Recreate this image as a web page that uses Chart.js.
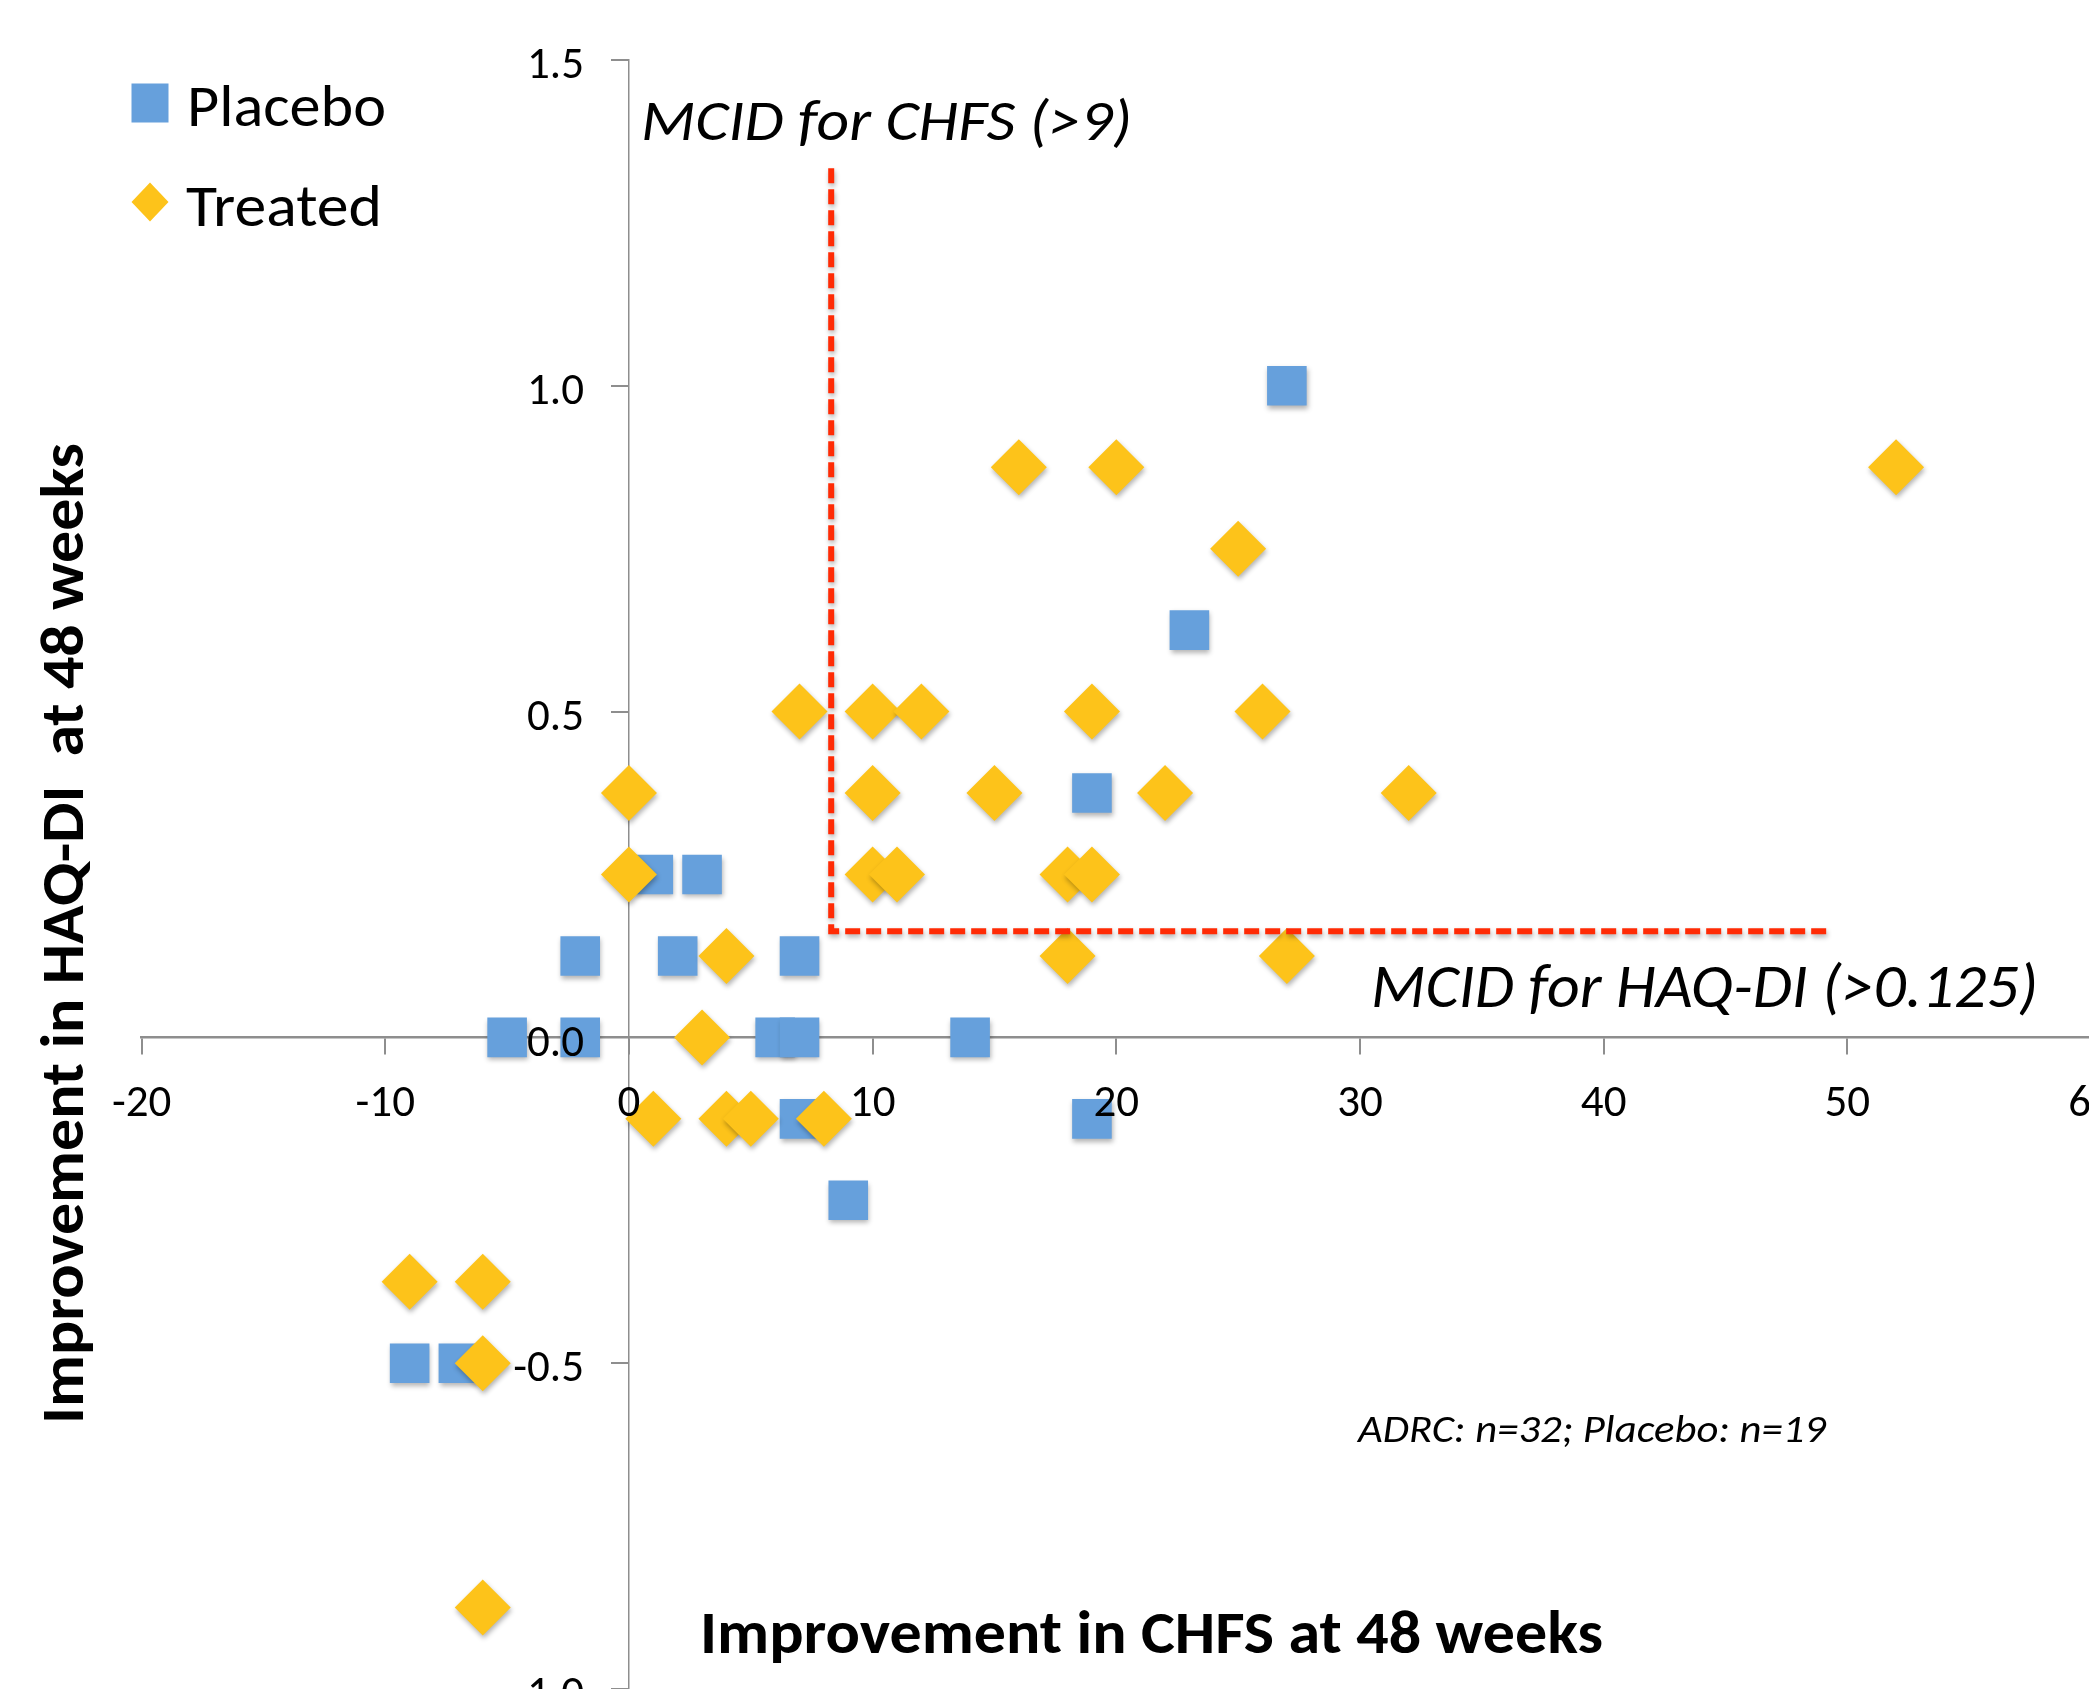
<!DOCTYPE html>
<html>
<head>
<meta charset="utf-8">
<script src="https://cdn.jsdelivr.net/npm/chart.js@4.4.1/dist/chart.umd.min.js"></script>
<style>
  html, body { margin: 0; padding: 0; background: #fff; overflow: hidden; width: 2089px; height: 1689px; }
  #wrap { position: absolute; left: 0; top: 0; width: 2160px; height: 1760px; }
</style>
</head>
<body>
<div id="wrap"><canvas id="chart" width="2160" height="1760"></canvas></div>
<script>
  // values (CHFS change, HAQ-DI change)
  const placeboX = [27, 23, 19, 1, 3, -2, 2, 7, -5, -2, 6, 7, 14, 7, 19, 9, -9, -7];
  const placeboY = [1.0, 0.625, 0.375, 0.25, 0.25, 0.125, 0.125, 0.125, 0, 0, 0, 0, 0, -0.125, -0.125, -0.25, -0.5, -0.5];
  const treatedX = [16, 20, 52, 25, 7, 10, 12, 19, 26, 0, 10, 15, 22, 32, 0, 10, 11, 18, 19, 4, 18, 27, 3, 1, 4, 5, 8, -9, -6, -6, -6];
  const treatedY = [0.875, 0.875, 0.875, 0.75, 0.5, 0.5, 0.5, 0.5, 0.5, 0.375, 0.375, 0.375, 0.375, 0.375, 0.25, 0.25, 0.25, 0.25, 0.25, 0.125, 0.125, 0.125, 0, -0.125, -0.125, -0.125, -0.125, -0.375, -0.375, -0.5, -0.875];
  // hand-drawn MCID guide (corner path)
  const mcidX = [8.3, 8.3, 49.3];
  const mcidY = [1.334, 0.163, 0.163];
  const xTicks = [-20, -10, 0, 10, 20, 30, 40, 50, 60];
  const yTicks = [-1.0, -0.5, 0, 0.5, 1.0, 1.5];

  const FONT = 'Carlito, Calibri, Lato, sans-serif';
  const BLUE = '#66A0DC';
  const GOLD = '#FDC31A';
  const RED = '#FF2B05';
  const AXIS = '#8e8e8e';

  const toPoints = (xs, ys) => xs.map((x, i) => ({ x, y: ys[i] }));

  // free text placed like the text boxes of the original slide
  const labels = [
    { text: 'MCID for CHFS (>9)', x: 641, y: 140, cap: 38, w: 491, style: 'italic' },
    { text: 'MCID for HAQ-DI (>0.125)', x: 1371, y: 1007, cap: 40, w: 667, style: 'italic' },
    { text: 'ADRC: n=32; Placebo: n=19', x: 1358, y: 1442, cap: 25.5, w: 468, style: 'italic' },
    { text: 'Improvement in CHFS at 48 weeks', x: 700, y: 1653, cap: 40, w: 903, style: 'bold' },
    { text: 'Improvement in HAQ-DI  at 48 weeks', x: 83, y: 1424, cap: 40, w: 981, style: 'bold', rot: -Math.PI / 2 }
  ];
  const legendRows = [
    { label: 'Placebo', cx: 150, cy: 103, tx: 187, ty: 126, tw: 199 },
    { label: 'Treated', cx: 150, cy: 202, tx: 186, ty: 226, tw: 196 }
  ];

  function capFont(ctx, style, capH) {
    ctx.font = style + ' 100px ' + FONT;
    const r = ctx.measureText('H').actualBoundingBoxAscent / 100 || 0.7;
    return style + ' ' + (capH / r).toFixed(1) + 'px ' + FONT;
  }

  function fitText(ctx, text, x, y, font, width, rot) {
    ctx.save();
    ctx.font = font;
    const w = ctx.measureText(text).width;
    ctx.translate(x, y);
    if (rot) ctx.rotate(rot);
    ctx.scale(width / w, 1);
    ctx.fillStyle = '#000';
    ctx.textBaseline = 'alphabetic';
    ctx.textAlign = 'left';
    ctx.fillText(text, 0, 0);
    ctx.restore();
  }

  // soft drop shadow like the office chart's default effect
  const markerShadow = {
    id: 'markerShadow',
    beforeDatasetDraw(chart) {
      const ctx = chart.ctx;
      ctx.save();
      ctx.shadowColor = 'rgba(0,0,0,0.3)';
      ctx.shadowBlur = 5;
      ctx.shadowOffsetX = 1;
      ctx.shadowOffsetY = 3;
    },
    afterDatasetDraw(chart) {
      chart.ctx.restore();
    }
  };

  const textLayer = {
    id: 'textLayer',
    afterDraw(chart) {
      const ctx = chart.ctx;
      labels.forEach(l => fitText(ctx, l.text, l.x, l.y, capFont(ctx, l.style, l.cap), l.w, l.rot));

      legendRows.forEach(row => {
        const ds = chart.data.datasets.find(d => d.label === row.label);
        ctx.save();
        ctx.fillStyle = ds.backgroundColor;
        ctx.beginPath();
        if (ds.pointStyle === 'rect') {
          ctx.rect(row.cx - 18.5, row.cy - 19.5, 37, 39);
        } else {
          ctx.moveTo(row.cx, row.cy - 19.5);
          ctx.lineTo(row.cx + 18.5, row.cy);
          ctx.lineTo(row.cx, row.cy + 19.5);
          ctx.lineTo(row.cx - 18.5, row.cy);
          ctx.closePath();
        }
        ctx.fill();
        ctx.restore();
        fitText(ctx, row.label, row.tx, row.ty, capFont(ctx, 'normal', 39), row.tw);
      });
    }
  };

  new Chart(document.getElementById('chart'), {
    type: 'scatter',
    data: {
      datasets: [
        {
          label: 'MCID',
          data: toPoints(mcidX, mcidY),
          showLine: true,
          borderColor: RED,
          borderWidth: 6,
          borderDash: [15, 6],
          pointRadius: 0,
          fill: false,
          order: 0
        },
        {
          label: 'Treated',
          data: toPoints(treatedX, treatedY),
          pointStyle: 'rectRot',
          pointRadius: 28,
          backgroundColor: GOLD,
          borderColor: GOLD,
          borderWidth: 0,
          order: 1
        },
        {
          label: 'Placebo',
          data: toPoints(placeboX, placeboY),
          pointStyle: 'rect',
          pointRadius: 28,
          backgroundColor: BLUE,
          borderColor: BLUE,
          borderWidth: 0,
          order: 2
        }
      ]
    },
    options: {
      responsive: false,
      devicePixelRatio: 1,
      animation: false,
      events: [],
      layout: { padding: { left: 141.6, right: 69, top: 60, bottom: 71 } },
      plugins: { legend: { display: false }, tooltip: { enabled: false }, title: { display: false } },
      scales: {
        x: {
          type: 'linear',
          min: -20,
          max: 60,
          position: { y: 0 },
          afterBuildTicks: s => { s.ticks = xTicks.map(v => ({ value: v })); },
          grid: { drawOnChartArea: false, drawTicks: true, tickLength: 16, color: AXIS, lineWidth: 2 },
          border: { display: true, color: AXIS, width: 2.5 },
          ticks: {
            z: 1,
            autoSkip: false, maxRotation: 0, padding: 24, color: '#000',
            font: { family: FONT, size: 45 },
            callback: v => String(v)
          }
        },
        y: {
          type: 'linear',
          min: -1.0,
          max: 1.5,
          position: { x: 0 },
          afterBuildTicks: s => { s.ticks = yTicks.map(v => ({ value: v })); },
          grid: { drawOnChartArea: false, drawTicks: true, tickLength: 17, color: AXIS, lineWidth: 2 },
          border: { display: true, color: AXIS, width: 1.5 },
          ticks: {
            z: 1,
            autoSkip: false, color: '#000',
            // short line height + empty first line nudges the label a little below its tick
            font: { family: FONT, size: 45, lineHeight: 0.31 },
            // an em space keeps the label clear of the crossing axis
            callback: v => ['', Number(v).toFixed(1) + '\u2003']
          }
        }
      }
    },
    plugins: [markerShadow, textLayer]
  });
</script>
</body>
</html>
